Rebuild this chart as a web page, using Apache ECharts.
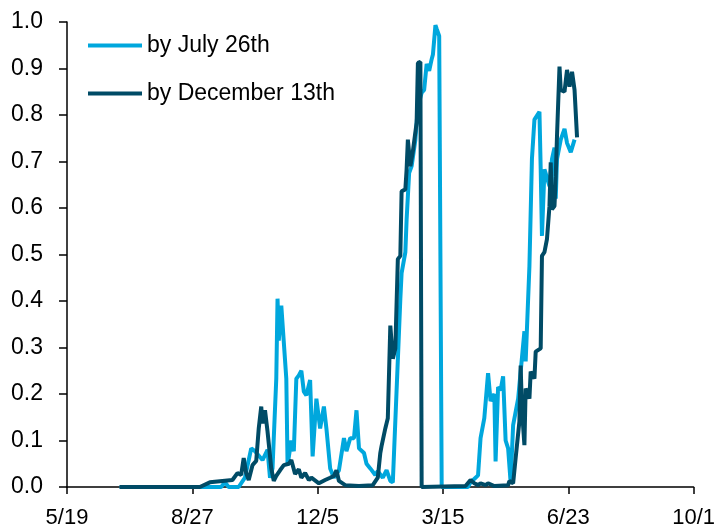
<!DOCTYPE html>
<html>
<head>
<meta charset="utf-8">
<script src="https://cdn.jsdelivr.net/npm/echarts@6/dist/echarts.min.js"></script>
<style>
  html, body { margin: 0; padding: 0; background: #fff; }
  #chart { width: 718px; height: 529px; }
</style>
</head>
<body>
<div id="chart"></div>
<script>
// Probability series
const startDate = '2022-05-19';
const xTickLabels = ['5/19', '8/27', '12/5', '3/15', '6/23', '10/1'];
const seriesNames = ['by July 26th', 'by December 13th'];
const seriesColors = ['#00A7DD', '#004B66'];

const julyDates = [
  '2022-06-30','2022-09-06','2022-09-19','2022-09-22','2022-09-25','2022-10-03','2022-10-08',
  '2022-10-13','2022-10-16','2022-10-22','2022-10-26','2022-10-28','2022-10-30','2022-10-31',
  '2022-11-02','2022-11-03','2022-11-04','2022-11-06','2022-11-07','2022-11-10','2022-11-11',
  '2022-11-14','2022-11-16','2022-11-18','2022-11-20','2022-11-22','2022-11-24','2022-11-26',
  '2022-11-29','2022-12-01','2022-12-04','2022-12-07','2022-12-10','2022-12-12','2022-12-15',
  '2022-12-18','2022-12-22','2022-12-26','2022-12-28','2022-12-31','2023-01-03','2023-01-05',
  '2023-01-07','2023-01-11','2023-01-13','2023-01-16','2023-01-20','2023-01-22','2023-01-26',
  '2023-01-29','2023-02-01','2023-02-03','2023-02-09','2023-02-10','2023-02-13','2023-02-14',
  '2023-02-15','2023-02-16','2023-02-18','2023-02-21','2023-02-23','2023-02-26','2023-02-28',
  '2023-03-02','2023-03-04','2023-03-06','2023-03-07','2023-03-09','2023-03-10','2023-03-12',
  '2023-03-14','2023-04-04','2023-04-06','2023-04-10','2023-04-12','2023-04-14','2023-04-17',
  '2023-04-20','2023-04-22','2023-04-25','2023-04-26','2023-04-28','2023-04-30','2023-05-02',
  '2023-05-04','2023-05-06','2023-05-08','2023-05-10','2023-05-14','2023-05-19','2023-05-20',
  '2023-05-23','2023-05-25','2023-05-27','2023-05-31','2023-06-01','2023-06-02','2023-06-04',
  '2023-06-08','2023-06-10','2023-06-12','2023-06-13','2023-06-14','2023-06-17','2023-06-20',
  '2023-06-22','2023-06-25','2023-06-28'
];
const julyValues = [
  0.0, 0.0, 0.0, 0.01, 0.0, 0.0, 0.02,
  0.083, 0.077, 0.058, 0.08, 0.02, 0.04, 0.105,
  0.233, 0.405, 0.315, 0.39, 0.388, 0.233, 0.047,
  0.1, 0.077, 0.233, 0.24, 0.25, 0.205, 0.197,
  0.23, 0.066, 0.19, 0.126, 0.173, 0.126, 0.04,
  0.02, 0.036, 0.105, 0.077, 0.105, 0.105, 0.165,
  0.083, 0.073, 0.05, 0.04, 0.026, 0.034, 0.02,
  0.036, 0.013, 0.01, 0.405, 0.46, 0.505, 0.575,
  0.572, 0.675, 0.69, 0.747, 0.818, 0.848, 0.854,
  0.91, 0.895, 0.92, 0.93, 0.993, 0.985, 0.97,
  0.0, 0.0, 0.01, 0.02, 0.025, 0.105, 0.148,
  0.245, 0.185, 0.2, 0.055, 0.215, 0.208, 0.238,
  0.1, 0.083, 0.01, 0.133, 0.19, 0.335, 0.27,
  0.475, 0.705, 0.79, 0.807, 0.683, 0.54, 0.683,
  0.647, 0.705, 0.73, 0.62, 0.705, 0.747, 0.77,
  0.74, 0.72, 0.747
];

const decDates = [
  '2022-06-30','2022-09-02','2022-09-10','2022-09-28','2022-10-02','2022-10-05','2022-10-07',
  '2022-10-09','2022-10-11','2022-10-14','2022-10-17','2022-10-19','2022-10-21','2022-10-22',
  '2022-10-24','2022-10-26','2022-10-29','2022-10-31','2022-11-02','2022-11-05','2022-11-08',
  '2022-11-12','2022-11-14','2022-11-17','2022-11-20','2022-11-22','2022-11-25','2022-11-28',
  '2022-11-30','2022-12-06','2022-12-11','2022-12-15','2022-12-18','2022-12-20','2022-12-22',
  '2022-12-27','2023-01-07','2023-01-18','2023-01-22','2023-01-24','2023-01-25','2023-01-28',
  '2023-01-30','2023-02-01','2023-02-03','2023-02-05','2023-02-07','2023-02-09','2023-02-10',
  '2023-02-13','2023-02-14','2023-02-15','2023-02-17','2023-02-19','2023-02-22','2023-02-23',
  '2023-02-25','2023-02-26','2023-04-02','2023-04-06','2023-04-09','2023-04-12','2023-04-14',
  '2023-04-18','2023-04-20','2023-04-25','2023-05-06','2023-05-07','2023-05-10','2023-05-12',
  '2023-05-15','2023-05-16','2023-05-17','2023-05-19','2023-05-20','2023-05-23','2023-05-24',
  '2023-05-27','2023-05-28','2023-06-01','2023-06-02','2023-06-04','2023-06-06','2023-06-08',
  '2023-06-09','2023-06-10','2023-06-12','2023-06-13','2023-06-14','2023-06-16','2023-06-17',
  '2023-06-20','2023-06-22','2023-06-24','2023-06-26','2023-06-28','2023-06-30'
];
const decValues = [
  0.0, 0.0, 0.01, 0.015, 0.03, 0.026, 0.062,
  0.03, 0.015, 0.047, 0.056, 0.126, 0.173, 0.137,
  0.165, 0.12, 0.04, 0.013, 0.024, 0.036, 0.047,
  0.05, 0.058, 0.028, 0.038, 0.02, 0.03, 0.015,
  0.02, 0.008, 0.015, 0.02, 0.024, 0.036, 0.013,
  0.004, 0.002, 0.004, 0.02, 0.073, 0.088, 0.126,
  0.148, 0.347, 0.276, 0.298, 0.49, 0.497, 0.636,
  0.64, 0.683, 0.747, 0.69, 0.722, 0.784, 0.912,
  0.914, 0.0, 0.002, 0.015, 0.008, 0.004, 0.008,
  0.004, 0.008, 0.002, 0.004, 0.013, 0.008, 0.062,
  0.141, 0.261, 0.169, 0.09, 0.212, 0.19, 0.248,
  0.233, 0.291, 0.298, 0.497, 0.505, 0.533, 0.604,
  0.698, 0.597, 0.604, 0.668, 0.754, 0.904, 0.854,
  0.85, 0.897, 0.861, 0.893, 0.854, 0.752
];

const DAY = 86400000;
function dayOffset(s) {
  return Math.round((Date.parse(s + 'T00:00:00Z') - Date.parse(startDate + 'T00:00:00Z')) / DAY);
}
function pairs(dates, values) {
  return dates.map((d, i) => [dayOffset(d), values[i]]);
}

const FONT = '"Liberation Sans", Arial, sans-serif';
const chart = echarts.init(document.getElementById('chart'), null, { renderer: 'canvas' });
chart.setOption({
  animation: false,
  backgroundColor: '#ffffff',
  textStyle: { fontFamily: FONT },
  grid: { left: 67, right: 21, top: 22, bottom: 40, containLabel: false },
  legend: {
    orient: 'vertical',
    left: 88,
    top: 34,
    padding: 0,
    icon: 'rect',
    itemWidth: 54,
    itemHeight: 4,
    itemGap: 25,
    data: seriesNames,
    textStyle: { fontSize: 23, color: '#000', fontFamily: FONT, padding: [0, 0, 0, 0] }
  },
  xAxis: {
    type: 'value',
    min: 0,
    max: 500,
    interval: 100,
    axisLine: { show: true, lineStyle: { color: '#000', width: 1.5 } },
    axisTick: { show: true, length: 7, lineStyle: { color: '#000', width: 1.5 } },
    splitLine: { show: false },
    axisLabel: {
      fontSize: 22, color: '#000', fontFamily: FONT, margin: 20,
      formatter: v => xTickLabels[Math.round(v / 100)] || ''
    }
  },
  yAxis: {
    type: 'value',
    min: 0,
    max: 1,
    interval: 0.1,
    axisLine: { show: true, lineStyle: { color: '#000', width: 1.5 } },
    axisTick: { show: true, length: 8, lineStyle: { color: '#000', width: 1.5 } },
    splitLine: { show: false },
    axisLabel: {
      fontSize: 23, color: '#000', fontFamily: FONT, margin: 24,
      formatter: v => v.toFixed(1)
    }
  },
  series: [
    {
      name: seriesNames[0],
      type: 'line',
      data: pairs(julyDates, julyValues),
      symbol: 'none',
      lineStyle: { color: seriesColors[0], width: 4 },
      itemStyle: { color: seriesColors[0] }
    },
    {
      name: seriesNames[1],
      type: 'line',
      data: pairs(decDates, decValues),
      symbol: 'none',
      lineStyle: { color: seriesColors[1], width: 4 },
      itemStyle: { color: seriesColors[1] }
    }
  ]
});
</script>
</body>
</html>
